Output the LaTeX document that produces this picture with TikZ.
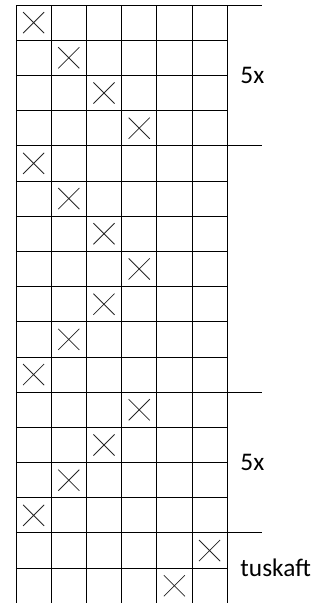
\documentclass[tikz,border=0pt]{standalone}
\usepackage{fontspec}
\setmainfont{Carlito}
\begin{document}
\begin{tikzpicture}[x=26.4pt, y=-26.4pt,
    gridline/.style={line width=0.7pt, black},
    crossline/.style={line width=0.6pt, black!85},
    repeatlabel/.style={anchor=west, inner sep=0pt, font=\fontsize{19}{23}\selectfont}]
  \useasboundingbox (-0.4545,-0.142) rectangle (8.892,16.99);

  % Grid
  \foreach \r in {0,...,16}
    \draw[gridline] (0,\r) -- (6,\r);
  \foreach \c in {0,...,6}
    \draw[gridline] (\c,0) -- (\c,16.99);

  % Crosses (row/column)
  \foreach \r/\c in {0/0,1/1,2/2,3/3,4/0,5/1,6/2,7/3,8/2,9/1,10/0,
                     11/3,12/2,13/1,14/0,15/5,16/4}
    \draw[crossline] (\c+0.2,\r+0.2) -- (\c+0.8,\r+0.8)
                     (\c+0.8,\r+0.2) -- (\c+0.2,\r+0.8);

  % Repeat markers
  \foreach \r in {0,4,11,15}
    \draw[gridline] (6,\r) -- (7,\r);

  % Labels
  \node[repeatlabel] (first) at (6.37,2) {5x};
  \node[repeatlabel] (second) at (6.37,13) {5x};
  \node[repeatlabel] (edge) at (6.37,16) {tuskaft};
\end{tikzpicture}
\end{document}
